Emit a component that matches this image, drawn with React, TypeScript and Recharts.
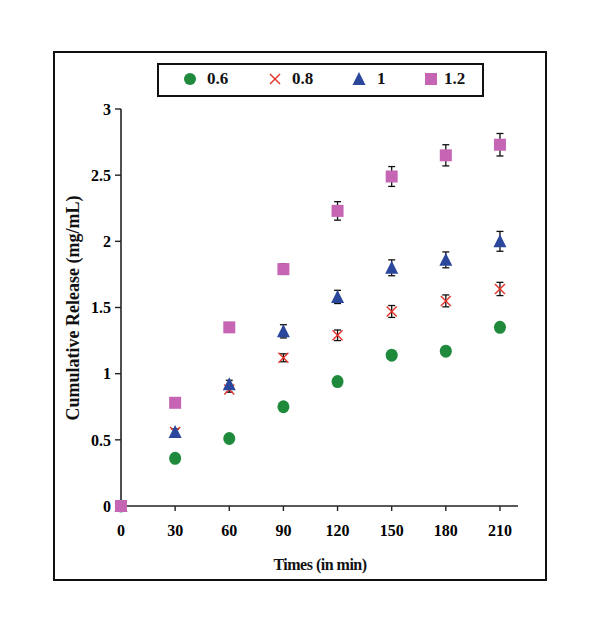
import { ErrorBar, Scatter, ScatterChart, XAxis, YAxis } from 'recharts'

// sampling times (min)
const times = [0, 30, 60, 90, 120, 150, 180, 210]
const xTicks = [0, 30, 60, 90, 120, 150, 180, 210]
const yTicks = [0, 0.5, 1, 1.5, 2, 2.5, 3]

// cumulative release (mg/mL) per concentration
const release06 = [0, 0.36, 0.51, 0.75, 0.94, 1.14, 1.17, 1.35]
const release08 = [0, 0.56, 0.88, 1.12, 1.29, 1.47, 1.55, 1.64]
const release10 = [0, 0.56, 0.92, 1.32, 1.58, 1.8, 1.86, 2.0]
const release12 = [0, 0.78, 1.35, 1.79, 2.23, 2.49, 2.65, 2.73]

// standard deviations
const err06 = [0, 0.01, 0.01, 0.01, 0.01, 0.01, 0.01, 0.03]
const err08 = [0, 0.02, 0.02, 0.03, 0.04, 0.045, 0.045, 0.05]
const err10 = [0, 0.02, 0.03, 0.05, 0.05, 0.06, 0.06, 0.075]
const err12 = [0, 0.01, 0.03, 0.04, 0.07, 0.075, 0.08, 0.085]

const GREEN = '#1f8a3c'
const RED = '#e5332a'
const BLUE = '#2b479c'
const PINK = '#c565b4'
const FONT = '"Liberation Serif", "Times New Roman", serif'

const toPoints = (ys: number[], errs: number[]) =>
  times.map((t, i) => ({ x: t, y: ys[i], err: errs[i] }))

const circleShape = (p: any) => <ellipse cx={p.cx} cy={p.cy} rx={6} ry={6.5} fill={GREEN} />
const crossShape = (p: any) => (
  <g stroke={RED} strokeWidth={1.4}>
    <line x1={p.cx - 5} y1={p.cy - 5} x2={p.cx + 5} y2={p.cy + 5} />
    <line x1={p.cx - 5} y1={p.cy + 5} x2={p.cx + 5} y2={p.cy - 5} />
  </g>
)
const triangleShape = (p: any) => (
  <polygon points={`${p.cx},${p.cy - 7} ${p.cx - 6.5},${p.cy + 6} ${p.cx + 6.5},${p.cy + 6}`} fill={BLUE} />
)
const squareShape = (p: any) => <rect x={p.cx - 6} y={p.cy - 6} width={12} height={12} fill={PINK} />

const series = [
  { name: '0.6', data: toPoints(release06, err06), shape: circleShape },
  { name: '0.8', data: toPoints(release08, err08), shape: crossShape },
  { name: '1', data: toPoints(release10, err10), shape: triangleShape },
  { name: '1.2', data: toPoints(release12, err12), shape: squareShape },
]

const legendItems = [
  { name: '0.6', icon: <circle cx={8} cy={8} r={6} fill={GREEN} />, iconX: 182, textX: 207 },
  {
    name: '0.8',
    icon: (
      <g stroke={RED} strokeWidth={1.4}>
        <line x1={3} y1={3} x2={13} y2={13} />
        <line x1={3} y1={13} x2={13} y2={3} />
      </g>
    ),
    iconX: 267,
    textX: 292,
  },
  { name: '1', icon: <polygon points="8,1 1.5,14 14.5,14" fill={BLUE} />, iconX: 351, textX: 377 },
  { name: '1.2', icon: <rect x={2} y={2} width={12} height={12} fill={PINK} />, iconX: 423, textX: 444 },
]

const tickStyle = { fill: '#000', fontFamily: FONT, fontWeight: 700, fontSize: 16 }

export default function App() {
  return (
    <div style={{ position: 'absolute', left: 0, top: 0, width: 600, height: 630, background: '#fff', fontFamily: FONT }}>
      <div
        style={{
          position: 'absolute', left: 53, top: 51, width: 494, height: 530,
          border: '2px solid #111', boxSizing: 'border-box',
        }}
      />
      <div
        style={{
          position: 'absolute', left: 157, top: 63, width: 327, height: 34,
          border: '2px solid #111', boxSizing: 'border-box',
        }}
      />
      {legendItems.map((item) => (
        <div key={item.name}>
          <svg width={16} height={16} style={{ position: 'absolute', left: item.iconX, top: 71 }}>
            {item.icon}
          </svg>
          <span
            style={{
              position: 'absolute', left: item.textX, top: 69, fontSize: 17, fontWeight: 700,
              lineHeight: '20px', color: '#111',
            }}
          >
            {item.name}
          </span>
        </div>
      ))}
      <div style={{ position: 'absolute', left: 0, top: 0 }}>
        <ScatterChart width={600} height={630} margin={{ top: 109, right: 82, bottom: 94, left: 0 }}>
          <XAxis
            type="number"
            dataKey="x"
            domain={[0, 220]}
            ticks={xTicks}
            tick={tickStyle}
            tickSize={5}
            tickMargin={14}
            height={30}
            axisLine={{ stroke: '#222', strokeWidth: 1.6 }}
            tickLine={{ stroke: '#222', strokeWidth: 1.4 }}
          />
          <YAxis
            type="number"
            dataKey="y"
            domain={[0, 3]}
            ticks={yTicks}
            tick={tickStyle}
            tickSize={6}
            tickMargin={4}
            width={121}
            axisLine={{ stroke: '#222', strokeWidth: 1.6 }}
            tickLine={{ stroke: '#222', strokeWidth: 1.4 }}
          />
          {series.map((s) => (
            <Scatter key={s.name} name={s.name} data={s.data} shape={s.shape} isAnimationActive={false}>
              <ErrorBar dataKey="err" direction="y" width={3.5} stroke="#111" strokeWidth={1.3} isAnimationActive={false} />
            </Scatter>
          ))}
        </ScatterChart>
      </div>
      <div
        style={{
          position: 'absolute', left: 73, top: 308, transform: 'translate(-50%, -50%) rotate(-90deg)',
          whiteSpace: 'nowrap', fontSize: 18, fontWeight: 700, color: '#111',
        }}
      >
        Cumulative Release (mg/mL)
      </div>
      <div
        style={{
          position: 'absolute', left: 320, top: 565, transform: 'translate(-50%, -50%)',
          whiteSpace: 'nowrap', fontSize: 16, fontWeight: 700, color: '#111', letterSpacing: -0.5,
        }}
      >
        Times (in min)
      </div>
    </div>
  )
}
